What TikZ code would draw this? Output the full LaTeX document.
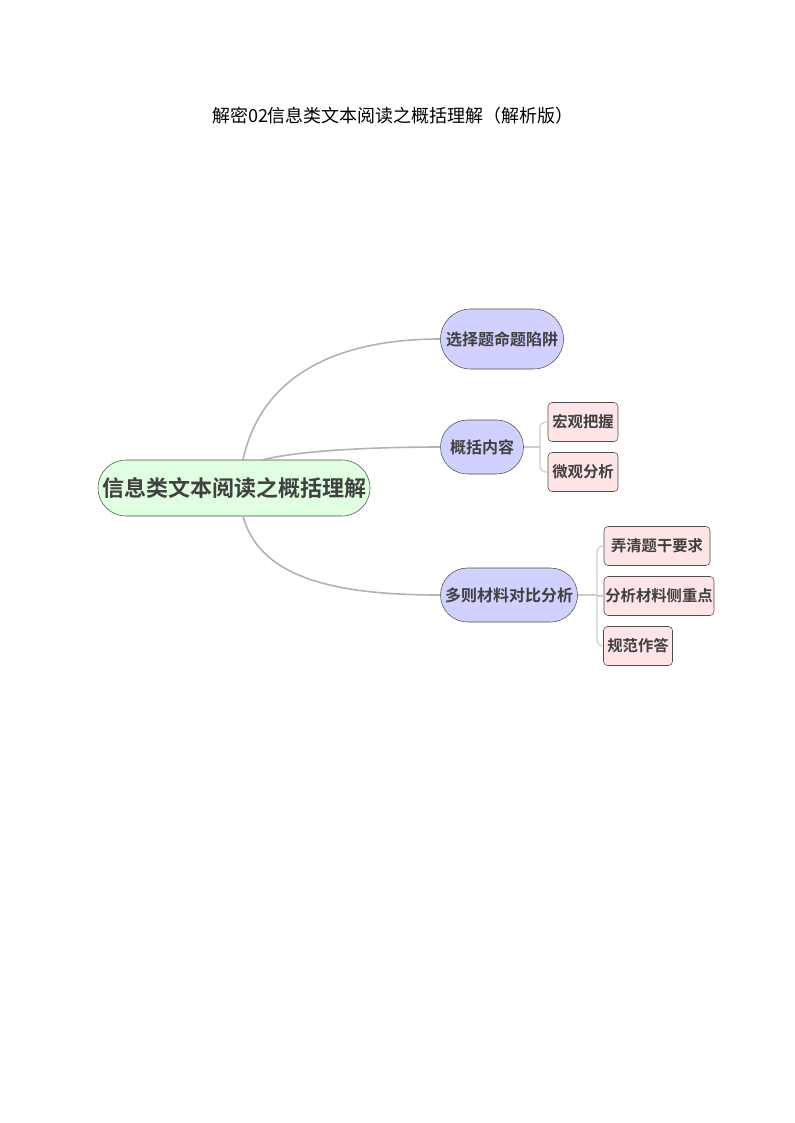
\documentclass[tikz,border=0pt]{standalone}
\usepackage{fontspec}
\newfontfamily\cjk{Noto Sans CJK SC}
\newfontfamily\cjkb{Noto Sans CJK SC Bold}
\begin{document}
\begin{tikzpicture}[x=0.75pt,y=-0.75pt,
  root/.style={draw=black!70,fill=green!12,rounded corners=28*0.75pt,minimum width=272*0.75pt,minimum height=56*0.75pt,font=\cjkb\fontsize{16.5}{18}\selectfont,text=black!75,inner sep=0pt},
  lvone/.style={draw=black!70,fill=blue!18,rounded corners=27*0.75pt,minimum height=54*0.75pt,font=\cjkb\fontsize{12}{14}\selectfont,text=black!75,inner sep=0pt},
  lvtwo/.style={draw=black!70,fill=pink!40,rounded corners=3pt,minimum height=39*0.75pt,font=\cjkb\fontsize{11.5}{13}\selectfont,text=black!75,inner sep=0pt},
  link/.style={draw=black!30,line width=1.2pt},
  sublink/.style={draw=black!20,line width=0.9pt,rounded corners=4pt}]
\useasboundingbox (0,0) rectangle (794,1123);
\node[font=\cjk\fontsize{13.5}{15}\selectfont] (title) at (393,116) {解密02信息类文本阅读之概括理解（解析版）};
\node[root] (root) at (234,488) {信息类文本阅读之概括理解};
\node[lvone,minimum width=123*0.75pt,minimum height=60*0.75pt,rounded corners=30*0.75pt] (a) at (502,339) {选择题命题陷阱};
\node[lvone,minimum width=83*0.75pt] (b) at (482,447) {概括内容};
\node[lvone,minimum width=137*0.75pt] (c) at (509,595) {多则材料对比分析};
\node[lvtwo,minimum width=70*0.75pt] (b1) at (583,422) {宏观把握};
\node[lvtwo,minimum width=70*0.75pt] (b2) at (583,472) {微观分析};
\node[lvtwo,minimum width=106*0.75pt] (c1) at (657,546) {弄清题干要求};
\node[lvtwo,minimum width=110*0.75pt] (c2) at (659,596) {分析材料侧重点};
\node[lvtwo,minimum width=69*0.75pt] (c3) at (638,646) {规范作答};
\coordinate (rt) at (243,460);
\coordinate (rm) at (262,460);
\coordinate (rb) at (243,516);
\draw[link] (rt) .. controls (260,380) and (330,339) .. (a.west);
\draw[link] (rm) .. controls (300,450) and (380,447) .. (b.west);
\draw[link] (rb) .. controls (260,580) and (340,595) .. (c.west);
\draw[sublink] (b.east) -- (540,447);
\draw[sublink] (b1.west) -- (540,422) -- (540,472) -- (b2.west);
\draw[sublink] (c.east) -- (597,595);
\draw[sublink] (c1.west) -- (597,546) -- (597,646) -- (c3.west);
\draw[sublink] (597,596) -- (c2.west);
\end{tikzpicture}
\end{document}
